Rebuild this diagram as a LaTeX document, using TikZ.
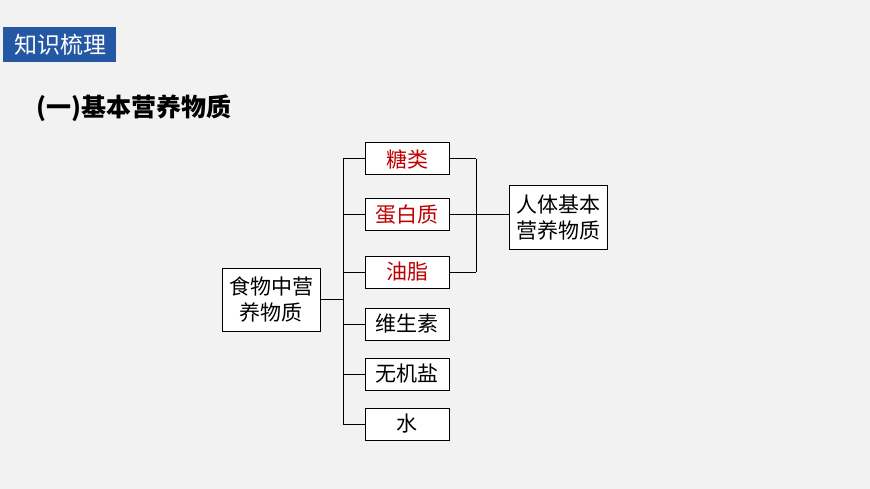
\documentclass[tikz,border=0pt]{standalone}
\usepackage{fontspec}
\setmainfont{Noto Sans CJK SC}
\usetikzlibrary{positioning}
\definecolor{TitleBlue}{HTML}{2458A4}
\definecolor{KeyRed}{HTML}{C00000}
\definecolor{PageGray}{HTML}{F2F2F2}
\tikzset{
    itembox/.style = {draw, rectangle, line width=1pt, fill=white,
        minimum height=32pt, minimum width=84pt, font=\fontsize{21}{23}\selectfont, inner sep=0pt},
    sumbox/.style = {draw, rectangle, line width=1pt, fill=white,
        minimum height=63pt, minimum width=98pt, align=center, font=\fontsize{21}{26}\selectfont, inner sep=1pt},
    link/.style = {draw, line width=1pt}
}
\begin{document}
\begin{tikzpicture}[x=1pt,y=-1pt]
                \fill[PageGray] (0,0) rectangle (870,489);
                \useasboundingbox (0,0) rectangle (870,489);
                \fill[TitleBlue] (3,27) rectangle (116,62);
                \node (title) [anchor=center,text=white,font=\fontsize{23}{26}\selectfont] at (60,45) {知识梳理};
                \node (head) [anchor=west,font=\bfseries\fontsize{25}{28}\selectfont] at (33,108) {(一)基本营养物质};
                % right column of items
                \node (tang) [itembox,text=KeyRed] at (407,159) {糖类};
                \node (danbai) [itembox,text=KeyRed] at (407,215) {蛋白质};
                \node (youzhi) [itembox,text=KeyRed] at (407,272) {油脂};
                \node (wss) [itembox] at (407,324) {维生素};
                \node (wjy) [itembox] at (407,374) {无机盐};
                \node (shui) [itembox] at (407,424) {水};
                \node (food) [sumbox] at (271,299.5) {食物中营\\养物质};
                \node (basic) [sumbox] at (558,217.5) {人体基本\\营养物质};
                \coordinate (lbus) at (343,299.5);
                \coordinate (rbus) at (476,215);
                % connectors
                \draw[link] (food.east) -- (lbus);
                \foreach \n in {tang,danbai,youzhi,wss,wjy,shui}
                    \draw[link] (\n.west) -- (\n.west -| lbus);
                \draw[link] (tang.west -| lbus) -- (shui.west -| lbus);
                \foreach \n in {tang,danbai,youzhi}
                    \draw[link] (\n.east) -- (\n.east -| rbus);
                \draw[link] (tang.east -| rbus) -- (youzhi.east -| rbus);
                \draw[link] (rbus) -- (basic.west |- rbus);
            \end{tikzpicture}
\end{document}
